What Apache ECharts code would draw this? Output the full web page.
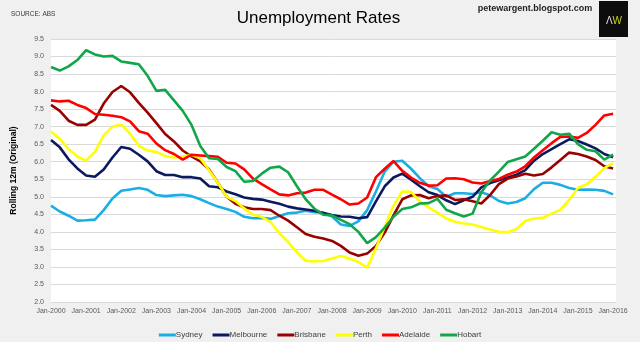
<!DOCTYPE html>
<html>
<head>
<meta charset="utf-8">
<title>Unemployment Rates</title>
<script src="https://cdn.jsdelivr.net/npm/echarts@6/dist/echarts.min.js"></script>
<style>
  html, body { margin: 0; padding: 0; background: #f0f0f0; }
  #chart { width: 640px; height: 342px; }
</style>
</head>
<body>
<div id="chart"></div>
<script>
// Rolling 12-month unemployment rates by capital city, quarterly readings Jan-2000 .. Jan-2016
const periods = [];
for (let y = 2000; y <= 2015; y++) {
  for (let q = 0; q < 4; q++) periods.push((y - 2000) * 12 + q * 3);
}
periods.push(192); // Jan-2016

const yearTicks = ['Jan-2000','Jan-2001','Jan-2002','Jan-2003','Jan-2004','Jan-2005','Jan-2006','Jan-2007',
  'Jan-2008','Jan-2009','Jan-2010','Jan-2011','Jan-2012','Jan-2013','Jan-2014','Jan-2015','Jan-2016'];

const sydney = [
  4.75, 4.58, 4.46, 4.32, 4.33, 4.35, 4.62, 4.95, 5.17, 5.21, 5.25, 5.20, 5.05, 5.02, 5.04, 5.06, 5.02, 4.93, 4.82, 4.72, 4.65,
  4.57, 4.43, 4.39, 4.40, 4.37, 4.45, 4.53, 4.55, 4.60, 4.56, 4.55, 4.44, 4.21, 4.17, 4.30, 4.62, 5.15, 5.72, 6.00, 6.03, 5.80, 5.53, 5.30,
  5.22, 5.00, 5.10, 5.10, 5.08, 5.13, 5.04, 4.88, 4.81, 4.85, 4.96, 5.22, 5.40, 5.40, 5.34, 5.25, 5.20, 5.21, 5.20, 5.17, 5.07
];
const melbourne = [
  6.62, 6.41, 6.07, 5.81, 5.61, 5.57, 5.78, 6.12, 6.42, 6.37, 6.20, 6.01, 5.73, 5.62, 5.62, 5.56, 5.56, 5.52, 5.30, 5.27, 5.15,
  5.07, 4.98, 4.94, 4.92, 4.86, 4.80, 4.72, 4.67, 4.64, 4.60, 4.54, 4.48, 4.44, 4.43, 4.39, 4.42, 4.87, 5.30, 5.55, 5.66, 5.49, 5.30, 5.13,
  5.05, 4.90, 4.79, 4.90, 5.00, 5.27, 5.39, 5.47, 5.55, 5.63, 5.76, 6.03, 6.22, 6.36, 6.50, 6.64, 6.59, 6.49, 6.38, 6.22, 6.13
];
const brisbane = [
  7.62, 7.45, 7.17, 7.05, 7.05, 7.20, 7.66, 7.99, 8.16, 7.98, 7.68, 7.40, 7.10, 6.79, 6.58, 6.32, 6.15, 6.01, 5.78, 5.40, 5.00,
  4.80, 4.70, 4.65, 4.65, 4.62, 4.46, 4.32, 4.13, 3.94, 3.86, 3.81, 3.74, 3.60, 3.41, 3.32, 3.38, 3.60, 3.98, 4.47, 4.93, 5.04, 5.05, 4.96,
  5.02, 5.04, 4.91, 4.93, 4.87, 4.81, 5.05, 5.36, 5.52, 5.58, 5.66, 5.61, 5.65, 5.84, 6.05, 6.26, 6.22, 6.15, 6.05, 5.87, 5.81
];
const perth = [
  6.86, 6.65, 6.36, 6.15, 6.03, 6.28, 6.75, 7.00, 7.06, 6.80, 6.46, 6.32, 6.28, 6.16, 6.12, 6.15, 6.20, 6.10, 5.76, 5.40, 5.00,
  4.88, 4.67, 4.49, 4.43, 4.28, 3.96, 3.71, 3.42, 3.17, 3.16, 3.17, 3.24, 3.31, 3.24, 3.14, 2.98, 3.53, 4.15, 4.75, 5.15, 5.14, 4.86, 4.70,
  4.55, 4.38, 4.29, 4.24, 4.21, 4.14, 4.07, 4.00, 3.99, 4.08, 4.31, 4.38, 4.40, 4.52, 4.63, 4.91, 5.25, 5.36, 5.57, 5.82, 5.96
];
const adelaide = [
  7.75, 7.72, 7.74, 7.62, 7.53, 7.36, 7.34, 7.31, 7.27, 7.15, 6.87, 6.80, 6.52, 6.33, 6.22, 6.06, 6.20, 6.18, 6.16, 6.14, 5.97,
  5.95, 5.78, 5.52, 5.36, 5.21, 5.07, 5.04, 5.10, 5.12, 5.20, 5.20, 5.06, 4.93, 4.78, 4.81, 4.98, 5.56, 5.80, 6.02, 5.74, 5.55, 5.40, 5.32,
  5.33, 5.52, 5.53, 5.50, 5.41, 5.38, 5.45, 5.51, 5.63, 5.72, 5.87, 6.12, 6.33, 6.53, 6.71, 6.72, 6.68, 6.82, 7.05, 7.32, 7.37
];
const hobart = [
  8.70, 8.60, 8.72, 8.90, 9.18, 9.06, 9.00, 9.02, 8.86, 8.82, 8.78, 8.45, 8.02, 8.05, 7.75, 7.45, 7.05, 6.45, 6.10, 6.08, 5.85,
  5.73, 5.43, 5.45, 5.66, 5.83, 5.86, 5.70, 5.30, 4.93, 4.66, 4.49, 4.47, 4.34, 4.22, 4.00, 3.68, 3.85, 4.12, 4.43, 4.65, 4.70, 4.81, 4.82,
  4.94, 4.63, 4.53, 4.44, 4.52, 5.13, 5.47, 5.72, 5.99, 6.07, 6.15, 6.37, 6.60, 6.84, 6.77, 6.80, 6.50, 6.34, 6.30, 6.06, 6.20
];

const cities = [
  { name: 'Sydney',    values: sydney,    color: '#1aaee5' },
  { name: 'Melbourne', values: melbourne, color: '#0b1a5e' },
  { name: 'Brisbane',  values: brisbane,  color: '#990000' },
  { name: 'Perth',     values: perth,     color: '#ffff00' },
  { name: 'Adelaide',  values: adelaide,  color: '#ff0000' },
  { name: 'Hobart',    values: hobart,    color: '#12a64a' }
];

const FONT = '"Liberation Sans", Arial, sans-serif';

const chart = echarts.init(document.getElementById('chart'), null, { renderer: 'canvas' });

chart.setOption({
  backgroundColor: '#f0f0f0',
  animation: false,
  grid: {
    left: 51, right: 24, top: 39, bottom: 40,
    show: true, backgroundColor: '#ffffff', borderWidth: 0
  },
  graphic: [
    {
      type: 'text', left: 11, top: 11,
      style: { text: 'SOURCE: ABS', font: '6.5px ' + FONT, fill: '#3a3a3a' }
    },
    {
      type: 'text', x: 318.5, y: 18,
      style: { text: 'Unemployment Rates', font: '17px ' + FONT, fill: '#000',
               align: 'center', verticalAlign: 'middle' }
    },
    {
      type: 'text', x: 535, y: 9,
      style: { text: 'petewargent.blogspot.com', font: 'bold 9px ' + FONT, fill: '#222',
               align: 'center', verticalAlign: 'middle' }
    },
    {
      type: 'rect', shape: { x: 599, y: 1, width: 29, height: 36 },
      style: { fill: '#0d0d0d' }
    },
    {
      type: 'text', x: 614, y: 21,
      style: {
        text: '{a|Λ}{w|W}', align: 'center', verticalAlign: 'middle',
        rich: {
          a: { fontFamily: FONT, fontSize: 10, fill: '#dcdcdc', color: '#dcdcdc' },
          w: { fontFamily: FONT, fontSize: 10, fill: '#c8d21e', color: '#c8d21e' }
        }
      }
    }
  ],
  legend: {
    top: 326, left: 'center',
    itemWidth: 17, itemHeight: 3, itemGap: 10,
    icon: 'rect',
    textStyle: { fontFamily: FONT, fontSize: 8, color: '#404040', padding: [0, 0, 0, -5] },
    data: cities.map(c => c.name)
  },
  xAxis: {
    type: 'value', min: 0, max: 193, interval: 12,
    axisLine: { show: false }, axisTick: { show: false },
    splitLine: { show: false },
    axisLabel: {
      margin: 6, fontFamily: FONT, fontSize: 7, color: '#595959',
      showMaxLabel: false,
      formatter: v => (v % 12 === 0 ? yearTicks[v / 12] : '')
    }
  },
  yAxis: {
    type: 'value', min: 2, max: 9.5, interval: 0.5,
    name: 'Rolling 12m (Original)', nameLocation: 'middle', nameRotate: 90, nameGap: 33,
    nameTextStyle: { fontFamily: FONT, fontSize: 8.5, fontWeight: 'bold', color: '#000' },
    axisLine: { show: false }, axisTick: { show: false },
    splitLine: { lineStyle: { color: '#d9d9d9', width: 1 } },
    axisLabel: {
      margin: 7, fontFamily: FONT, fontSize: 7, color: '#595959',
      formatter: v => v.toFixed(1)
    }
  },
  series: cities.map(c => ({
    name: c.name,
    type: 'line',
    data: periods.map((m, i) => [m, c.values[i]]),
    showSymbol: false,
    symbol: 'none',
    lineStyle: { color: c.color, width: 2.6 },
    itemStyle: { color: c.color },
    emphasis: { disabled: true }
  }))
});
</script>
</body>
</html>
